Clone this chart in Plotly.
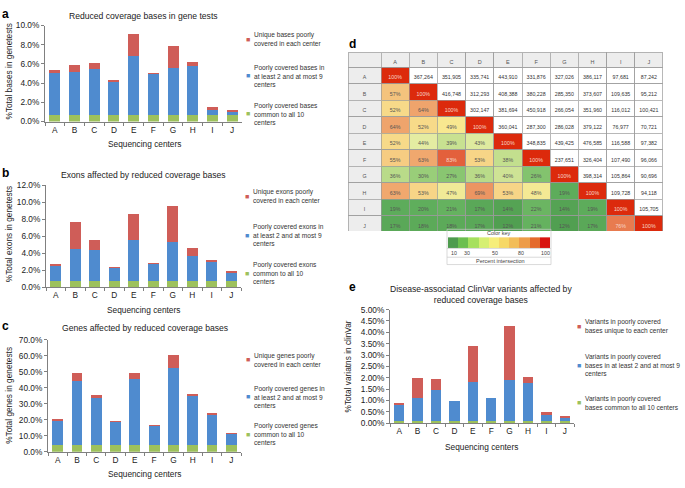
import plotly.graph_objects as go

W, H = 685, 488
FONT = "Liberation Sans, Arial, sans-serif"

centers = ["A", "B", "C", "D", "E", "F", "G", "H", "I", "J"]

# ---- panel a: % total bases in genetests
bases_common = [0.65, 0.65, 0.65, 0.65, 0.65, 0.65, 0.65, 0.65, 0.65, 0.65]
bases_multi = [4.45, 4.5, 4.85, 3.6, 6.15, 4.35, 4.95, 5.15, 0.7, 0.4]
bases_unique = [0.25, 0.75, 0.55, 0.05, 2.3, 0.1, 2.3, 0.4, 0.15, 0.15]

# ---- panel b: % total exons in genetests
exons_common = [0.75, 0.75, 0.75, 0.75, 0.75, 0.75, 0.75, 0.75, 0.75, 0.75]
exons_multi = [1.77, 3.75, 3.63, 1.5, 4.79, 1.95, 4.6, 2.93, 2.2, 0.95]
exons_unique = [0.23, 3.17, 1.12, 0.02, 3.1, 0.1, 4.25, 0.92, 0.3, 0.16]

# ---- panel c: % total genes in genetests
genes_common = [4.2, 4.2, 4.2, 4.2, 4.2, 4.2, 4.2, 4.2, 4.2, 4.2]
genes_multi = [15.6, 40.3, 29.3, 14.8, 41.6, 12.0, 48.0, 30.8, 18.8, 7.4]
genes_unique = [0.8, 4.7, 1.9, 0.2, 3.2, 0.1, 8.5, 1.2, 0.8, 0.1]

# ---- panel e: % total variants in ClinVar
clinvar_common = [0.1, 0.1, 0.1, 0.1, 0.1, 0.1, 0.1, 0.1, 0.1, 0.1]
clinvar_multi = [0.73, 1.02, 1.35, 0.89, 1.72, 1.0, 1.82, 1.68, 0.32, 0.17]
clinvar_unique = [0.07, 0.86, 0.49, 0.0, 1.59, 0.0, 2.38, 0.24, 0.08, 0.06]

# ---- panel d: pairwise intersection
diag_pct = [100, 100, 100, 100, 100, 100, 100, 100, 100, 100]
pct_lower = [
    [],
    [57],
    [52, 64],
    [64, 52, 49],
    [52, 44, 39, 43],
    [55, 63, 83, 53, 38],
    [36, 30, 27, 36, 40, 26],
    [63, 53, 47, 69, 53, 48, 19],
    [19, 20, 21, 17, 14, 22, 14, 19],
    [17, 18, 18, 17, 12, 21, 12, 17, 76],
]
counts_upper = [
    [367264, 351905, 335741, 443910, 331876, 327026, 386117, 97681, 87242],
    [416748, 312293, 408388, 380228, 285350, 373607, 109635, 95212],
    [302147, 381694, 450918, 266054, 351960, 116012, 100421],
    [360041, 287300, 286028, 379122, 76977, 70721],
    [348835, 439425, 476585, 116588, 97382],
    [237651, 326404, 107490, 96066],
    [398314, 105864, 90696],
    [109728, 94118],
    [105705],
    [],
]
key_labels = ["10", "30", "50", "80", "100"]

# ---- styles
RED, BLUE, GREEN = "#cf5d58", "#4f8bcf", "#9dc15c"
pct_anchors = [(10, "#4e9b4e"), (20, "#5fae5c"), (28, "#8fca74"), (38, "#c3df8e"),
               (44, "#e4eca2"), (49, "#f8e890"), (55, "#f6cc82"), (64, "#efa46c"),
               (70, "#ec9260"), (83, "#e3603c"), (100, "#dc2a0c")]
key_colors = ["#4e9b4e", "#6cbf4f", "#a6e05e", "#d6ef72", "#f6ee7a",
              "#f6d866", "#f2bd58", "#ed9c48", "#e46a2c", "#d81410"]


def X(px):
    return px / W


def Y(py):
    return 1 - py / H


def hex2rgb(h):
    h = h.lstrip("#")
    return tuple(int(h[i:i + 2], 16) for i in (0, 2, 4))


def pct_color(v):
    if v <= pct_anchors[0][0]:
        return pct_anchors[0][1]
    for (v0, c0), (v1, c1) in zip(pct_anchors[:-1], pct_anchors[1:]):
        if v0 <= v <= v1:
            t = (v - v0) / (v1 - v0)
            a, b = hex2rgb(c0), hex2rgb(c1)
            r = [round(a[k] + (b[k] - a[k]) * t) for k in range(3)]
            return "rgb(%d,%d,%d)" % tuple(r)
    return pct_anchors[-1][1]


fig = go.Figure()

panels = [
    dict(ax="", data=(bases_common, bases_multi, bases_unique), xd=(45, 242), yd=(119, 21),
         top=10, dtick=2, fmt=".1f",
         title="Reduced coverage bases in gene tests", ty=11, tx=143, letter="a", ly=9,
         ylab="%Total bases in genetests", ylab_y=68, xlab_y=142, xlab_x=144,
         legx=248,
         leg=[("Unique bases poorly<br>covered in each center", RED, 35),
              ("Poorly covered bases in<br>at least 2 and at most 9<br>centers", BLUE, 72),
              ("Poorly covered bases<br>common to all 10<br>centers", GREEN, 111)]),
    dict(ax="2", data=(exons_common, exons_multi, exons_unique), xd=(46, 241), yd=(288, 184),
         top=12, dtick=2, fmt=".1f",
         title="Exons affected by reduced coverage bases", ty=174, tx=143, letter="b", ly=172,
         ylab="%Total exons in genetests", ylab_y=234, xlab_y=311, xlab_x=143,
         legx=247,
         leg=[("Unique exons poorly<br>covered in each center", RED, 195),
              ("Poorly covered exons in<br>at least 2 and at most 9<br>centers", BLUE, 235),
              ("Poorly covered exons<br>common to all 10<br>centers", GREEN, 274)]),
    dict(ax="3", data=(genes_common, genes_multi, genes_unique), xd=(48, 241), yd=(456, 342),
         top=70, dtick=10, fmt=".1f",
         title="Genes affected by reduced coverage bases", ty=330, tx=145, letter="c", ly=328,
         ylab="%Total genes in genetests", ylab_y=399, xlab_y=479, xlab_x=144,
         legx=248,
         leg=[("Unique genes poorly<br>covered in each center", RED, 362),
              ("Poorly covered genes in<br>at least 2 and at most 9<br>centers", BLUE, 400),
              ("Poorly covered genes<br>common to all 10<br>centers", GREEN, 438)]),
    dict(ax="4", data=(clinvar_common, clinvar_multi, clinvar_unique), xd=(390, 574), yd=(427, 311),
         top=5, dtick=0.5, fmt=".2f",
         title="Disease-associatad ClinVar variants affected by<br>reduced coverage bases",
         ty=296, tx=481, letter="e", ly=288,
         ylab="%Total variatns in clinVar", ylab_y=369, ylab_x=348, xlab_y=451, xlab_x=481,
         legx=579,
         leg=[("Variants in poorly covered<br>bases unique to each center", RED, 328),
              ("Variants in poorly covered<br>bases in at least 2 and at most 9<br>centers", BLUE, 368),
              ("Variants in poorly covered<br>bases common to all 10 centers", GREEN, 406)]),
]

annotations = []
layout_axes = {}
AXCOL = "#808080"
for p in panels:
    common, multi, unique = p["data"]
    for vals, col in ((common, GREEN), (multi, BLUE), (unique, RED)):
        fig.add_trace(go.Bar(x=centers, y=vals, marker=dict(color=col, line=dict(width=0)),
                             xaxis="x" + p["ax"], yaxis="y" + p["ax"], showlegend=False,
                             hoverinfo="skip"))
    xa = "xaxis" + p["ax"]
    ya = "yaxis" + p["ax"]
    layout_axes[xa] = dict(domain=[X(p["xd"][0]), X(p["xd"][1])], anchor="y" + p["ax"],
                           type="category", showline=True, linecolor=AXCOL, linewidth=1,
                           ticks="outside", tickson="boundaries", ticklen=3, tickcolor=AXCOL,
                           tickfont=dict(size=8.3, color="#222"), showgrid=False, fixedrange=True)
    layout_axes[ya] = dict(domain=[Y(p["yd"][0]), Y(p["yd"][1])], anchor="x" + p["ax"],
                           range=[0, p["top"]], dtick=p["dtick"], tickformat=p["fmt"], ticksuffix="%",
                           showline=True, linecolor=AXCOL, linewidth=1, ticks="outside", ticklen=3,
                           tickcolor=AXCOL, tickfont=dict(size=8.3, color="#222"), showgrid=False,
                           zeroline=False, fixedrange=True)
    annotations.append(dict(text=p["title"], x=X(p["tx"]), y=Y(p["ty"]), xref="paper", yref="paper",
                            xanchor="center", yanchor="middle", showarrow=False,
                            font=dict(size=8.6, color="#222")))
    lx = 352 if p["ax"] == "4" else 5
    annotations.append(dict(text="<b>%s</b>" % p["letter"], x=X(lx), y=Y(p["ly"]), xref="paper",
                            yref="paper", xanchor="center", yanchor="middle", showarrow=False,
                            font=dict(size=12, color="#000")))
    annotations.append(dict(text=p["ylab"], x=X(p.get("ylab_x", 9)), y=Y(p["ylab_y"]), xref="paper",
                            yref="paper", textangle=-90, xanchor="center", yanchor="middle",
                            showarrow=False, font=dict(size=8.3, color="#222")))
    annotations.append(dict(text="Sequencing centers", x=X(p["xlab_x"]), y=Y(p["xlab_y"]), xref="paper",
                            yref="paper", xanchor="center", yanchor="middle", showarrow=False,
                            font=dict(size=8.3, color="#222")))
    for txt, col, cy in p["leg"]:
        annotations.append(dict(text="■", x=X(p["legx"]), y=Y(cy), xref="paper", yref="paper",
                                xanchor="center", yanchor="middle", showarrow=False,
                                font=dict(size=7, color=col)))
        annotations.append(dict(text=txt, x=X(p["legx"] + 4), y=Y(cy), xref="paper", yref="paper",
                                xanchor="left", yanchor="middle", align="left", showarrow=False,
                                font=dict(size=6.6, color="#333")))

# ---- panel d table
n = len(centers)
col_vals, col_fill, col_font = [list(centers)], [["#ededed"] * n], [["#555"] * n]
for j in range(n):
    vals, fills, fonts = [], [], []
    for i in range(n):
        if i == j:
            v = diag_pct[i]
            vals.append("%d%%" % v)
            fills.append(pct_color(v))
            fonts.append("#f7d6c8")
        elif i > j:
            v = pct_lower[i][j]
            vals.append("%d%%" % v)
            fills.append(pct_color(v))
            fonts.append("#f7d6c8" if v >= 75 else "#555")
        else:
            v = counts_upper[i][j - i - 1]
            vals.append("{:,}".format(v))
            fills.append("#ffffff")
            fonts.append("#333")
    col_vals.append(vals)
    col_fill.append(fills)
    col_font.append(fonts)

fig.add_trace(go.Table(
    domain=dict(x=[X(348), X(663)], y=[Y(231), Y(48)]),
    columnwidth=[33] + [28.2] * n,
    header=dict(values=[""] + centers, fill_color="#ededed", line=dict(color="#9a9a9a", width=0.7),
                font=dict(size=5.5, color="#555", family=FONT), height=15.2, align="center"),
    cells=dict(values=col_vals, fill=dict(color=col_fill), line=dict(color="#9a9a9a", width=0.7),
               font=dict(size=5.3, color=col_font, family=FONT), height=16.5, align="center"),
))

# ---- colour key
key_idx = list(range(len(key_colors)))
cs = []
for k, c in enumerate(key_colors):
    cs.append([k / len(key_colors), c])
    cs.append([(k + 1) / len(key_colors), c])
fig.add_trace(go.Heatmap(z=[key_idx], x=key_idx, colorscale=cs, zmin=-0.5, zmax=len(key_colors) - 0.5,
                         showscale=False, xaxis="x5", yaxis="y5", hoverinfo="skip", xgap=0))
layout_axes["xaxis5"] = dict(domain=[X(448), X(550)], anchor="y5", visible=False,
                             range=[-0.5, len(key_colors) - 0.5], fixedrange=True)
layout_axes["yaxis5"] = dict(domain=[Y(248), Y(237)], anchor="x5", visible=False, range=[-0.5, 0.5],
                             fixedrange=True)
key_pos = [0.05, 1.4, 4.1, 6.7, 9.1]
for lab, kx in zip(key_labels, key_pos):
    annotations.append(dict(text=lab, x=kx, y=Y(253), xref="x5", yref="paper", xanchor="center",
                            yanchor="middle", showarrow=False, font=dict(size=5.3, color="#444")))
annotations.append(dict(text="Color key", x=X(499), y=Y(233), xref="paper", yref="paper",
                        xanchor="center", yanchor="middle", showarrow=False,
                        font=dict(size=5.5, color="#444")))
annotations.append(dict(text="Percent intersection", x=X(500), y=Y(261), xref="paper", yref="paper",
                        xanchor="center", yanchor="middle", showarrow=False,
                        font=dict(size=5.5, color="#444")))
shapes = [
    dict(type="rect", xref="paper", yref="paper", x0=X(447), x1=X(551), y0=Y(265), y1=Y(229),
         line=dict(color="#c8c8c8", width=0.7)),
    dict(type="line", xref="paper", yref="paper", x0=X(447), x1=X(551), y0=Y(257.5), y1=Y(257.5),
         line=dict(color="#c8c8c8", width=0.7)),
    dict(type="line", xref="paper", yref="paper", x0=X(447), x1=X(551), y0=Y(248.5), y1=Y(248.5),
         line=dict(color="#c8c8c8", width=0.7)),
]
annotations.append(dict(text="<b>d</b>", x=X(352), y=Y(40), xref="paper", yref="paper",
                        xanchor="center", yanchor="middle", showarrow=False,
                        font=dict(size=12, color="#000")))

fig.update_layout(
    width=W, height=H, margin=dict(l=0, r=0, t=0, b=0),
    paper_bgcolor="white", plot_bgcolor="white",
    barmode="stack", bargap=0.44,
    font=dict(family=FONT, color="#222"),
    showlegend=False,
    annotations=annotations, shapes=shapes,
    **layout_axes,
)

fig.write_html("out.html", config={"displayModeBar": False},
               post_script="document.body.style.margin='0px';document.body.style.overflow='hidden';")
